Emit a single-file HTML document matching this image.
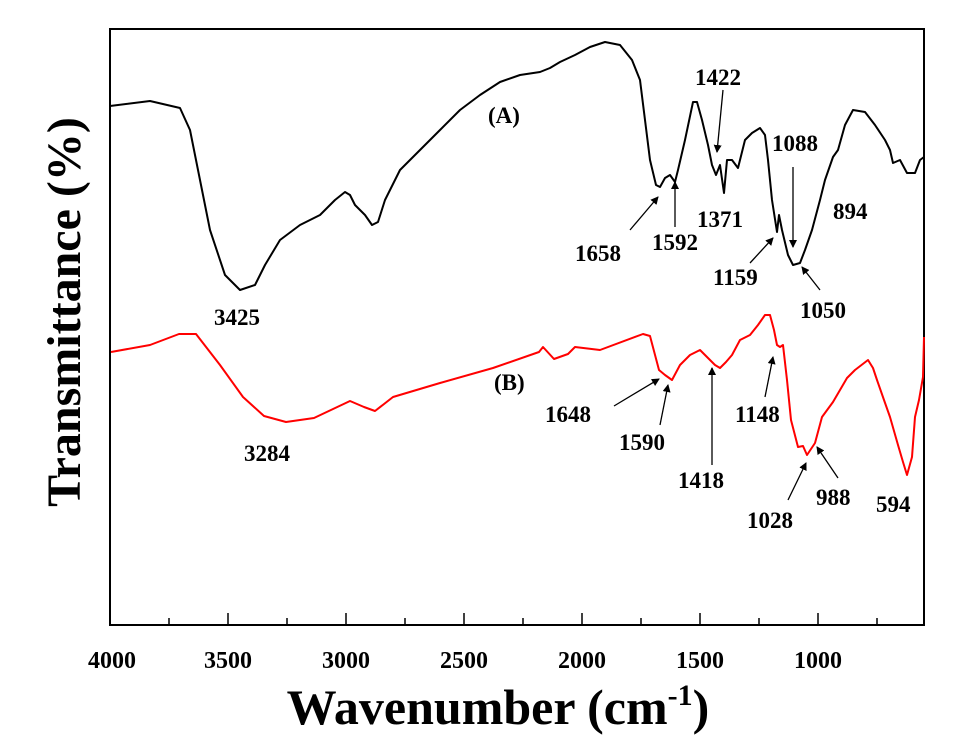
<!DOCTYPE html>
<html><head><meta charset="utf-8"><style>body{margin:0;background:#fff}svg{display:block}</style></head><body>
<svg width="955" height="751" viewBox="0 0 955 751" xmlns="http://www.w3.org/2000/svg" font-family="Liberation Serif, serif" font-weight="bold">
<defs><marker id="ah" markerWidth="8" markerHeight="8" refX="7" refY="4" orient="auto" markerUnits="userSpaceOnUse"><path d="M0,0 L8,4 L0,8 Z" fill="#000"/></marker></defs>
<rect x="110" y="29" width="814" height="596" fill="none" stroke="#000" stroke-width="2"/>
<g stroke="#000" stroke-width="1.5">
<line x1="228" y1="625" x2="228" y2="613"/><line x1="346" y1="625" x2="346" y2="613"/><line x1="464" y1="625" x2="464" y2="613"/><line x1="582" y1="625" x2="582" y2="613"/><line x1="700" y1="625" x2="700" y2="613"/><line x1="818" y1="625" x2="818" y2="613"/>
<line x1="169" y1="625" x2="169" y2="618"/><line x1="287" y1="625" x2="287" y2="618"/><line x1="405" y1="625" x2="405" y2="618"/><line x1="523" y1="625" x2="523" y2="618"/><line x1="641" y1="625" x2="641" y2="618"/><line x1="759" y1="625" x2="759" y2="618"/><line x1="877" y1="625" x2="877" y2="618"/>
</g>
<g font-size="24" text-anchor="middle">
<text x="112" y="668">4000</text><text x="228" y="668">3500</text><text x="346" y="668">3000</text><text x="464" y="668">2500</text><text x="582" y="668">2000</text><text x="700" y="668">1500</text><text x="818" y="668">1000</text>
</g>
<text x="498" y="724" font-size="50" text-anchor="middle">Wavenumber (cm<tspan font-size="30" dy="-19">-1</tspan><tspan dy="19">)</tspan></text>
<text transform="translate(80,312) rotate(-90)" font-size="48" text-anchor="middle">Transmittance (%)</text>
<polyline fill="none" stroke="#000" stroke-width="2" stroke-linejoin="round" points="110,106 150,101 180,108 190,130 200,180 210,230 225,275 240,290 255,285 265,265 280,240 300,225 320,215 335,200 345,192 350,195 355,205 360,210 365,215 372,225 378,222 385,200 400,170 420,150 440,130 460,110 480,95 500,82 520,75 540,72 550,68 560,62 575,55 590,47 605,42 620,45 632,60 640,80 645,120 650,160 656,185 660,187 665,178 670,175 675,182 678,170 685,140 693,102 697,102 702,120 708,145 712,165 716,175 720,165 724,193 727,160 732,160 738,168 745,140 752,133 760,128 765,135 768,160 772,200 777,232 779,215 782,230 788,255 793,265 800,263 805,250 812,230 820,200 825,180 833,157 838,150 845,125 853,110 865,112 875,125 885,140 890,150 893,163 900,160 907,173 915,173 920,160 924,157"/>
<polyline fill="none" stroke="#f00" stroke-width="2" stroke-linejoin="round" points="111,352 150,345 179,334 196,334 220,365 243,397 264,416 286,422 314,418 350,401 364,407 375,411 393,397 440,383 493,368 539,352 543,347 554,359 568,354 575,347 600,350 643,334 650,336 659,370 665,375 672,380 680,365 690,355 700,350 708,358 715,365 720,368 726,362 732,355 740,340 750,335 758,325 765,315 770,315 774,330 777,345 780,347 783,345 787,380 791,420 798,447 803,446 807,455 815,443 822,417 833,402 847,378 855,370 868,360 873,368 877,380 884,400 890,417 898,445 903,462 907,475 912,457 915,417 919,400 923,377 924,337"/>
<g font-size="23">
<text x="488" y="123">(A)</text><text x="695" y="85">1422</text><text x="772" y="151">1088</text><text x="833" y="219">894</text>
<text x="575" y="261">1658</text><text x="652" y="250">1592</text><text x="697" y="227">1371</text><text x="713" y="285">1159</text><text x="800" y="318">1050</text>
<text x="214" y="325">3425</text><text x="494" y="390">(B)</text><text x="244" y="461">3284</text><text x="545" y="422">1648</text>
<text x="619" y="450">1590</text><text x="678" y="488">1418</text><text x="735" y="422">1148</text><text x="747" y="528">1028</text><text x="816" y="505">988</text><text x="876" y="512">594</text>
</g>
<g stroke="#000" stroke-width="1.3" marker-end="url(#ah)">
<line x1="723" y1="90" x2="717" y2="152"/><line x1="793" y1="167" x2="793" y2="247"/><line x1="630" y1="230" x2="658" y2="197"/><line x1="675" y1="227" x2="675" y2="182"/>
<line x1="750" y1="263" x2="773" y2="238"/><line x1="820" y1="290" x2="802" y2="267"/>
<line x1="614" y1="406" x2="659" y2="379"/><line x1="660" y1="425" x2="668" y2="385"/><line x1="712" y1="465" x2="712" y2="368"/><line x1="765" y1="397" x2="773" y2="357"/>
<line x1="788" y1="500" x2="806" y2="463"/><line x1="838" y1="478" x2="817" y2="447"/>
</g>
</svg>
</body></html>
